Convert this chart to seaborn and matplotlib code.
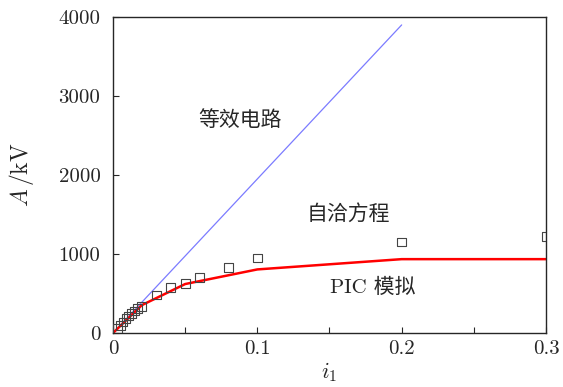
import numpy as np
import pandas as pd
import matplotlib
matplotlib.use("Agg")
import matplotlib.pyplot as plt
import seaborn as sns

# equivalent circuit (straight line)
circuit_i = [0.0, 0.2]
circuit_a = [0.0, 3900.0]

# PIC simulation
pic_i = [0.0, 0.02, 0.05, 0.1, 0.2, 0.3]
pic_a = [0.0, 353.0, 620.0, 805.0, 935.0, 935.0]

# self-consistent equation (open squares)
sc_i = [0.003, 0.005, 0.007, 0.009, 0.011, 0.013, 0.015, 0.017, 0.02,
        0.03, 0.04, 0.05, 0.06, 0.08, 0.1, 0.2, 0.3]
sc_a = [60, 100, 140, 180, 215, 250, 280, 310, 340,
        480, 572, 627, 703, 829, 950, 1152, 1224]

sns.set_style("ticks")
plt.rcParams["font.family"] = ["cmr10", "Noto Sans CJK SC", "DejaVu Sans"]
plt.rcParams["mathtext.fontset"] = "cm"
plt.rcParams["axes.unicode_minus"] = False

fig = plt.figure(figsize=(5.63, 3.87), dpi=100)
ax = fig.add_axes([0.2007, 0.1395, 0.7691, 0.8165])

sns.lineplot(x=circuit_i, y=circuit_a, ax=ax, color="#7b7bff", lw=0.9)
sns.lineplot(x=pic_i, y=pic_a, ax=ax, color="#ff0000", lw=1.8)
sns.scatterplot(x=sc_i, y=sc_a, ax=ax, marker="s", s=40,
                facecolor="none", edgecolor="#444444", linewidth=0.8, zorder=3)

ax.set_xlim(0, 0.3)
ax.set_ylim(0, 4000)
ax.set_xticks(np.arange(0, 0.301, 0.05))
ax.set_xticklabels(["0", "", "0.1", "", "0.2", "", "0.3"])
ax.set_yticks([0, 1000, 2000, 3000, 4000])
ax.set_yticklabels(["0", "1000", "2000", "3000", "4000"])
ax.tick_params(direction="in", length=4, width=0.8, labelsize=15)
ax.tick_params(axis="y", pad=9)
ax.tick_params(axis="x", pad=5)
for s in ax.spines.values():
    s.set_linewidth(1.0)
    s.set_visible(True)

ax.set_xlabel("$i_1$", fontsize=16, labelpad=2)
ax.set_ylabel("$A\\,$/kV", fontsize=17, labelpad=16)

ax.text(0.088, 2700, "等效电路", fontsize=15, ha="center", va="center")
ax.text(0.163, 1514, "自洽方程", fontsize=15, ha="center", va="center")
ax.text(0.18, 580, "PIC 模拟", fontsize=15, ha="center", va="center")

fig.savefig("out.png", dpi=100)
